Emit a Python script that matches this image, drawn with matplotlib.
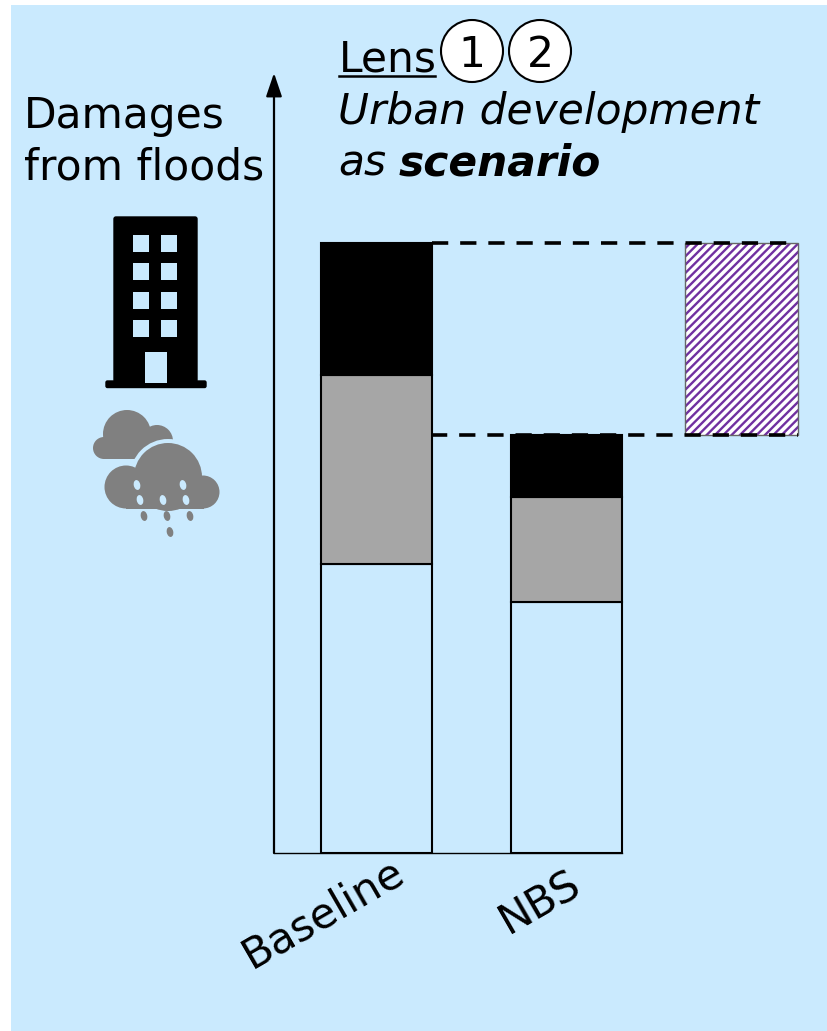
import matplotlib
matplotlib.use("Agg")
import numpy as np
import matplotlib.pyplot as plt
from matplotlib.patches import Rectangle, Circle, Ellipse, FancyBboxPatch

#values (arbitrary damage units, 1 unit = 1 px)
categories = ["Baseline", "NBS"]
unaffected = [289, 251]
gray_part = [189, 105]
black_part = [132, 62]
avoided_low = 418
avoided_high = 610

BG = "#CAEAFE"
GRAY = "#A6A6A6"
ICON_GRAY = "#808080"
PURPLE = "#7030A0"
W, H = 828, 1031

plt.rcParams["font.family"] = "DejaVu Sans"
plt.rcParams["hatch.linewidth"] = 1.7

fig = plt.figure(figsize=(W/100, H/100), dpi=100, facecolor="white")

#background axes in pixel coords, for panel, icons and text
bg = fig.add_axes([0, 0, 1, 1])
bg.set_xlim(0, W)
bg.set_ylim(H, 0)
bg.axis("off")
bg.add_patch(Rectangle((11, 5), W-11, H-5, fc=BG, ec="none"))

#building icon
bg.add_patch(FancyBboxPatch((114, 217), 83, 165, boxstyle="round,pad=0,rounding_size=2", fc="black", ec="black", lw=1))
bg.add_patch(FancyBboxPatch((106, 381), 100, 6.5, boxstyle="round,pad=0,rounding_size=1.5", fc="black", ec="black", lw=1))
for wy in [235, 263, 292, 320]:
    for wx in [133, 161]:
        bg.add_patch(Rectangle((wx, wy), 16.5, 16.5, fc=BG, ec="none"))
bg.add_patch(Rectangle((145, 352), 22, 31, fc=BG, ec="none"))

#back cloud
for cx, cy, r in [(127, 434, 24), (104, 448, 11), (157, 441, 16)]:
    bg.add_patch(Circle((cx, cy), r, fc=ICON_GRAY, ec="none"))
bg.add_patch(Rectangle((104, 440), 68, 19, fc=ICON_GRAY, ec="none"))

#front cloud, with a gap drawn round it in the panel colour
front = [(168, 477, 34), (126, 487, 21.5), (203, 492, 16.5)]
for cx, cy, r in front:
    bg.add_patch(Circle((cx, cy), r+4, fc=BG, ec="none"))
bg.add_patch(Rectangle((126, 470), 80, 42, fc=BG, ec="none"))
bg.add_patch(Rectangle((172, 459), 60, 60, fc=BG, ec="none", zorder=0.5))
for cx, cy, r in front:
    bg.add_patch(Circle((cx, cy), r, fc=ICON_GRAY, ec="none"))
bg.add_patch(Rectangle((126, 480), 78, 28.5, fc=ICON_GRAY, ec="none"))

#rain drops
for dx, dy in [(137, 485), (183, 485), (140, 500), (163, 500), (186, 500)]:
    bg.add_patch(Ellipse((dx, dy), 6.5, 10, angle=-12, fc=BG, ec="none"))
for dx, dy in [(144, 516), (167, 516), (190, 516), (170, 532)]:
    bg.add_patch(Ellipse((dx, dy), 6.5, 10, angle=-12, fc=ICON_GRAY, ec="none"))

#text
bg.text(24, 128, "Damages", fontsize=30.5, va="baseline", ha="left")
bg.text(24, 179, "from floods", fontsize=30.5, va="baseline", ha="left")
bg.text(339, 72, "Lens", fontsize=30.5, va="baseline", ha="left")
bg.plot([339, 435], [76, 76], color="black", lw=1.8)
bg.text(338, 124, "Urban development", fontsize=30.5, style="italic", va="baseline", ha="left")
bg.text(338, 175, "as", fontsize=30.5, style="italic", va="baseline", ha="left")
bg.text(399, 175, "scenario", fontsize=30.5, style="italic", weight="bold", va="baseline", ha="left")
for cx, label in [(472, "1"), (540, "2")]:
    bg.add_patch(Ellipse((cx, 51), 62, 62, fc="white", ec="black", lw=1.5))
    bg.text(cx, 67, label, fontsize=30.5, ha="center", va="baseline")
bg.text(323, 913, categories[0], fontsize=30.5, rotation=30, ha="center", va="center")
bg.text(540, 902, categories[1], fontsize=30.5, rotation=30, ha="center", va="center")

#bar axes, 190 px per category
left, right, base, top = 274, 800, 853, 73
ax = fig.add_axes([left/W, 1-base/H, (right-left)/W, (base-top)/H])
ax.patch.set_alpha(0)
ax.set_xlim(-102.5/190, (right-376.5)/190)
ax.set_ylim(0, base-top)
for s in ["top", "right", "left"]:
    ax.spines[s].set_visible(False)
ax.spines["bottom"].set_bounds(-102.5/190, 1.29)
ax.spines["bottom"].set_linewidth(1)
ax.set_xticks([])
ax.set_yticks([])

x = np.arange(len(categories))
bar_w = 111/190
low = np.array(unaffected)
mid = np.array(gray_part)
up = np.array(black_part)
ax.bar(x, low, bar_w, color=BG, edgecolor="black", lw=1.5)
ax.bar(x, mid, bar_w, bottom=low, color=GRAY, edgecolor="black", lw=1.5)
ax.bar(x, up, bar_w, bottom=low+mid, color="black", edgecolor="black", lw=1.5)

#avoided damages, hatched
xh = 1.921
ax.bar(xh, avoided_high-avoided_low, 113/190, bottom=avoided_low, color="white",
       edgecolor=PURPLE, hatch="////", lw=0)
ax.bar(xh, avoided_high-avoided_low, 113/190, bottom=avoided_low, color="none",
       edgecolor="#666666", lw=1)

#dashed guides
xs = [x[0]+bar_w/2, xh+113/380]
dash = (0, (4.5, 3.3))
ax.plot(xs, [avoided_high, avoided_high], color="black", lw=2.6, ls=dash)
ax.plot([x[1]-bar_w/2 - 0.42, xs[1]], [avoided_low, avoided_low], color="black", lw=2.6, ls=dash)

#y axis arrow
ax.annotate("", xy=(-102.5/190, base-top), xytext=(-102.5/190, 0), annotation_clip=False,
            arrowprops=dict(arrowstyle="-|>,head_width=0.22,head_length=0.65", color="black", lw=1.6,
                            mutation_scale=22, shrinkA=0, shrinkB=0))

fig.savefig("out.png", dpi=100)
